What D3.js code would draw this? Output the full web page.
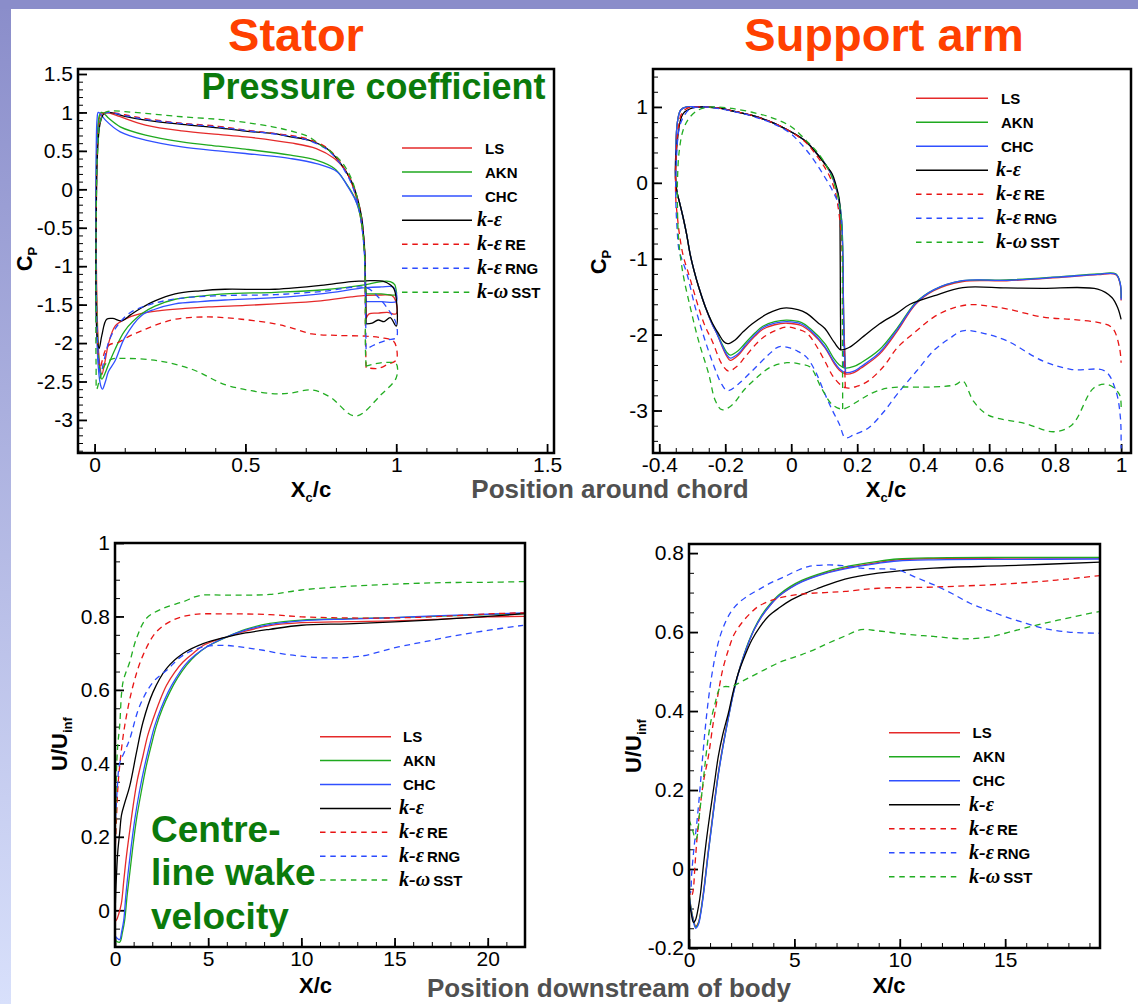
<!DOCTYPE html>
<html><head><meta charset="utf-8">
<script src="https://cdn.jsdelivr.net/npm/d3@7"></script>
<style>body{margin:0;background:#fff}svg{display:block}</style>
</head><body><svg id="chart" width="1138" height="1004"></svg>
<script>
// ---------------- DATA ----------------
const seriesNames = ["LS","AKN","CHC","k-ε","k-εRE","k-εRNG","k-ωSST"];

// Stator, pressure coefficient  [x_c/c, Cp]
const statorLS = [[0.9,-1.68],[0.898,-1.38],[0.897,-1.0],[0.893,-0.7],[0.885,-0.45],[0.873,-0.19],[0.855,0.05],[0.831,0.248],[0.795,0.40],[0.735,0.53],[0.65,0.604],[0.5,0.683],[0.41,0.714],[0.289,0.76],[0.169,0.836],[0.085,0.944],[0.05,0.99],[0.035,1.0],[0.02,0.97],[0.01,0.7],[0.006,0.0],[0.006,-1.0],[0.01,-1.8],[0.016,-2.25],[0.024,-2.41],[0.034,-2.25],[0.046,-2.01],[0.068,-1.78],[0.1,-1.69],[0.15,-1.62],[0.211,-1.58],[0.3,-1.55],[0.377,-1.53],[0.5,-1.51],[0.598,-1.49],[0.75,-1.45],[0.85,-1.40],[0.9,-1.38],[0.95,-1.375],[0.985,-1.38],[0.998,-1.45],[1.0,-1.62],[0.97,-1.6],[0.94,-1.61],[0.91,-1.62],[0.9,-1.68]];
const statorAKN = [[0.9,-1.36],[0.898,-1.24],[0.897,-1.0],[0.893,-0.65],[0.879,-0.317],[0.861,-0.10],[0.831,0.095],[0.795,0.27],[0.735,0.379],[0.65,0.444],[0.5,0.522],[0.41,0.561],[0.289,0.617],[0.169,0.705],[0.085,0.813],[0.048,0.92],[0.03,0.99],[0.022,1.0],[0.015,0.95],[0.008,0.6],[0.005,0.0],[0.005,-1.0],[0.01,-1.9],[0.016,-2.3],[0.024,-2.47],[0.034,-2.4],[0.046,-2.28],[0.068,-2.08],[0.1,-1.84],[0.156,-1.62],[0.2,-1.52],[0.267,-1.43],[0.35,-1.39],[0.432,-1.36],[0.598,-1.34],[0.75,-1.31],[0.9,-1.24],[0.95,-1.2],[0.98,-1.2],[0.995,-1.24],[1.0,-1.32],[1.0,-1.37],[0.95,-1.36],[0.9,-1.36]];
const statorCHC = [[0.9,-1.46],[0.898,-1.28],[0.897,-1.0],[0.893,-0.7],[0.885,-0.36],[0.865,-0.144],[0.84,0.03],[0.805,0.226],[0.735,0.335],[0.65,0.40],[0.5,0.466],[0.41,0.50],[0.289,0.553],[0.169,0.64],[0.085,0.748],[0.036,0.9],[0.02,0.98],[0.012,1.0],[0.008,0.9],[0.005,0.4],[0.004,-0.5],[0.005,-1.5],[0.012,-2.3],[0.02,-2.55],[0.026,-2.6],[0.036,-2.5],[0.046,-2.37],[0.068,-2.23],[0.1,-1.93],[0.156,-1.64],[0.2,-1.56],[0.267,-1.49],[0.35,-1.46],[0.432,-1.44],[0.598,-1.41],[0.75,-1.36],[0.9,-1.28],[0.95,-1.27],[0.99,-1.27],[1.0,-1.35],[1.0,-1.46],[0.95,-1.46],[0.9,-1.46]];
const statorKE = [[0.9,-1.75],[0.898,-1.19],[0.895,-0.8],[0.885,-0.36],[0.873,-0.14],[0.855,0.074],[0.831,0.248],[0.807,0.38],[0.77,0.53],[0.71,0.64],[0.65,0.683],[0.59,0.727],[0.5,0.757],[0.41,0.80],[0.289,0.845],[0.169,0.9],[0.1,0.95],[0.048,1.0],[0.03,0.98],[0.018,0.85],[0.01,0.5],[0.005,-0.5],[0.005,-1.5],[0.009,-1.95],[0.015,-2.07],[0.024,-1.9],[0.04,-1.69],[0.06,-1.68],[0.09,-1.71],[0.12,-1.63],[0.156,-1.54],[0.2,-1.45],[0.267,-1.36],[0.35,-1.32],[0.432,-1.30],[0.598,-1.30],[0.75,-1.25],[0.85,-1.2],[0.9,-1.19],[0.96,-1.2],[0.99,-1.28],[1.0,-1.42],[1.0,-1.78],[0.98,-1.67],[0.96,-1.72],[0.94,-1.7],[0.92,-1.74],[0.9,-1.75]];
const statorRE = [[0.9,-2.32],[0.898,-1.9],[0.897,-1.2],[0.895,-0.8],[0.885,-0.38],[0.873,-0.15],[0.855,0.07],[0.831,0.25],[0.807,0.39],[0.77,0.54],[0.71,0.65],[0.65,0.70],[0.5,0.77],[0.41,0.82],[0.289,0.86],[0.169,0.92],[0.1,0.97],[0.05,1.0],[0.03,0.98],[0.016,0.85],[0.008,0.4],[0.005,-0.8],[0.008,-1.8],[0.013,-2.2],[0.018,-2.32],[0.026,-2.22],[0.035,-2.10],[0.05,-2.02],[0.079,-1.99],[0.12,-1.9],[0.156,-1.84],[0.2,-1.77],[0.267,-1.69],[0.377,-1.66],[0.487,-1.69],[0.598,-1.75],[0.65,-1.80],[0.72,-1.88],[0.8,-1.90],[0.9,-1.91],[0.95,-1.93],[0.99,-1.97],[1.0,-2.05],[1.0,-2.22],[0.97,-2.28],[0.94,-2.33],[0.9,-2.32]];
const statorRNG = [[0.9,-2.08],[0.898,-1.5],[0.896,-1.0],[0.892,-0.7],[0.882,-0.38],[0.87,-0.15],[0.852,0.07],[0.828,0.25],[0.805,0.38],[0.77,0.52],[0.71,0.635],[0.65,0.69],[0.5,0.765],[0.41,0.81],[0.289,0.855],[0.169,0.91],[0.1,0.96],[0.05,1.0],[0.03,0.98],[0.016,0.85],[0.008,0.4],[0.005,-0.8],[0.008,-1.8],[0.014,-2.25],[0.02,-2.4],[0.03,-2.25],[0.05,-1.95],[0.08,-1.75],[0.12,-1.6],[0.2,-1.48],[0.3,-1.41],[0.45,-1.38],[0.6,-1.37],[0.75,-1.33],[0.9,-1.28],[0.94,-1.4],[0.98,-1.6],[1.0,-1.75],[1.0,-1.93],[0.97,-1.96],[0.93,-2.02],[0.9,-2.08]];
const statorSST = [[0.9,-2.3],[0.898,-2.1],[0.897,-1.2],[0.894,-0.8],[0.885,-0.4],[0.87,-0.1],[0.85,0.15],[0.82,0.35],[0.78,0.5],[0.75,0.574],[0.71,0.683],[0.65,0.76],[0.59,0.813],[0.5,0.87],[0.41,0.91],[0.289,0.944],[0.169,0.988],[0.1,1.01],[0.06,1.02],[0.035,1.0],[0.02,0.9],[0.01,0.5],[0.005,-0.5],[0.004,-1.5],[0.005,-2.3],[0.007,-2.6],[0.015,-2.5],[0.035,-2.28],[0.057,-2.21],[0.1,-2.2],[0.211,-2.23],[0.322,-2.34],[0.432,-2.54],[0.52,-2.62],[0.598,-2.66],[0.65,-2.65],[0.72,-2.61],[0.78,-2.7],[0.865,-2.95],[0.95,-2.67],[1.0,-2.45],[1.0,-2.27],[0.97,-2.25],[0.93,-2.27],[0.9,-2.3]];

// Support arm, pressure coefficient  [x_c/c, Cp]
const armLS = [[0.165,-2.52],[0.159,-1.8],[0.157,-1.11],[0.152,-0.5],[0.143,-0.2],[0.135,-0.06],[0.12,0.12],[0.102,0.25],[0.075,0.4],[0.047,0.536],[0.02,0.62],[-0.008,0.69],[-0.06,0.8],[-0.119,0.888],[-0.18,0.95],[-0.229,0.99],[-0.28,1.0],[-0.317,1.0],[-0.335,0.96],[-0.345,0.8],[-0.35,0.4],[-0.35,0.0],[-0.345,-0.15],[-0.339,-0.25],[-0.328,-0.45],[-0.317,-0.68],[-0.306,-0.95],[-0.295,-1.15],[-0.28,-1.38],[-0.26,-1.64],[-0.24,-1.86],[-0.225,-1.99],[-0.21,-2.15],[-0.196,-2.28],[-0.185,-2.34],[-0.16,-2.27],[-0.141,-2.17],[-0.11,-2.02],[-0.086,-1.93],[-0.05,-1.87],[-0.013,-1.85],[0.03,-1.88],[0.06,-1.97],[0.102,-2.17],[0.13,-2.38],[0.146,-2.47],[0.165,-2.52],[0.19,-2.5],[0.212,-2.44],[0.267,-2.26],[0.322,-1.95],[0.377,-1.6],[0.432,-1.42],[0.52,-1.30],[0.653,-1.29],[0.818,-1.245],[0.929,-1.21],[0.984,-1.21],[0.997,-1.33],[1.0,-1.55]];
const armAKN = [[0.163,-2.44],[0.159,-1.8],[0.157,-1.11],[0.153,-0.5],[0.144,-0.2],[0.136,-0.06],[0.121,0.12],[0.103,0.25],[0.075,0.4],[0.047,0.536],[0.02,0.62],[-0.008,0.69],[-0.06,0.8],[-0.119,0.888],[-0.18,0.95],[-0.229,0.99],[-0.28,1.0],[-0.317,1.0],[-0.335,0.96],[-0.345,0.8],[-0.35,0.4],[-0.35,0.0],[-0.345,-0.15],[-0.339,-0.25],[-0.328,-0.45],[-0.317,-0.68],[-0.306,-0.95],[-0.295,-1.15],[-0.28,-1.38],[-0.26,-1.64],[-0.24,-1.85],[-0.225,-1.98],[-0.21,-2.12],[-0.196,-2.23],[-0.185,-2.27],[-0.16,-2.21],[-0.141,-2.12],[-0.11,-1.98],[-0.086,-1.89],[-0.05,-1.83],[-0.013,-1.81],[0.03,-1.84],[0.06,-1.93],[0.102,-2.12],[0.13,-2.32],[0.146,-2.4],[0.163,-2.44],[0.19,-2.42],[0.212,-2.37],[0.267,-2.2],[0.322,-1.91],[0.377,-1.58],[0.432,-1.41],[0.52,-1.29],[0.653,-1.28],[0.818,-1.235],[0.929,-1.20],[0.984,-1.20],[0.997,-1.32],[1.0,-1.52]];
const armCHC = [[0.164,-2.50],[0.159,-1.8],[0.157,-1.11],[0.153,-0.5],[0.144,-0.2],[0.136,-0.06],[0.121,0.12],[0.103,0.25],[0.075,0.4],[0.047,0.536],[0.02,0.62],[-0.008,0.69],[-0.06,0.8],[-0.119,0.888],[-0.18,0.95],[-0.229,0.99],[-0.28,1.0],[-0.317,1.0],[-0.335,0.96],[-0.345,0.8],[-0.35,0.4],[-0.35,0.0],[-0.345,-0.15],[-0.339,-0.25],[-0.328,-0.45],[-0.317,-0.68],[-0.306,-0.95],[-0.295,-1.15],[-0.28,-1.38],[-0.26,-1.64],[-0.24,-1.86],[-0.225,-1.99],[-0.21,-2.14],[-0.196,-2.26],[-0.185,-2.31],[-0.16,-2.25],[-0.141,-2.15],[-0.11,-2.0],[-0.086,-1.91],[-0.05,-1.85],[-0.013,-1.83],[0.03,-1.86],[0.06,-1.95],[0.102,-2.16],[0.13,-2.36],[0.146,-2.45],[0.164,-2.50],[0.19,-2.48],[0.212,-2.42],[0.267,-2.24],[0.322,-1.93],[0.377,-1.59],[0.432,-1.41],[0.52,-1.29],[0.653,-1.285],[0.818,-1.24],[0.929,-1.205],[0.984,-1.205],[0.997,-1.32],[1.0,-1.54]];
const armKE = [[0.15,-2.2],[0.149,-1.5],[0.148,-0.6],[0.146,-0.23],[0.135,-0.02],[0.124,0.12],[0.102,0.25],[0.075,0.4],[0.047,0.536],[0.02,0.62],[-0.008,0.69],[-0.06,0.8],[-0.119,0.888],[-0.18,0.95],[-0.229,0.99],[-0.295,0.99],[-0.328,0.91],[-0.345,0.558],[-0.35,0.0],[-0.345,-0.15],[-0.339,-0.25],[-0.328,-0.45],[-0.317,-0.68],[-0.306,-0.95],[-0.295,-1.15],[-0.28,-1.38],[-0.26,-1.64],[-0.24,-1.84],[-0.22,-1.99],[-0.205,-2.09],[-0.193,-2.12],[-0.17,-2.07],[-0.145,-1.96],[-0.119,-1.86],[-0.07,-1.72],[-0.023,-1.65],[0.02,-1.67],[0.047,-1.72],[0.08,-1.84],[0.102,-1.92],[0.13,-2.1],[0.15,-2.2],[0.175,-2.17],[0.22,-2.02],[0.267,-1.86],[0.32,-1.72],[0.36,-1.6],[0.432,-1.49],[0.52,-1.38],[0.65,-1.385],[0.76,-1.39],[0.929,-1.40],[0.972,-1.51],[0.99,-1.65],[1.0,-1.80]];
const armRE = [[0.164,-2.7],[0.158,-1.8],[0.155,-1.0],[0.15,-0.6],[0.135,-0.15],[0.12,0.05],[0.102,0.2],[0.075,0.37],[0.047,0.52],[-0.008,0.69],[-0.06,0.8],[-0.119,0.888],[-0.18,0.95],[-0.229,0.99],[-0.28,1.0],[-0.31,0.99],[-0.33,0.93],[-0.343,0.7],[-0.35,0.2],[-0.35,-0.2],[-0.345,-0.45],[-0.339,-0.673],[-0.328,-0.95],[-0.311,-1.2],[-0.296,-1.42],[-0.281,-1.64],[-0.262,-1.88],[-0.24,-2.08],[-0.21,-2.39],[-0.19,-2.48],[-0.165,-2.42],[-0.141,-2.30],[-0.11,-2.14],[-0.086,-2.04],[-0.05,-1.95],[-0.013,-1.90],[0.02,-1.93],[0.047,-1.98],[0.075,-2.14],[0.102,-2.35],[0.13,-2.57],[0.164,-2.70],[0.2,-2.68],[0.234,-2.61],[0.28,-2.42],[0.322,-2.17],[0.38,-1.95],[0.432,-1.77],[0.49,-1.65],[0.543,-1.605],[0.6,-1.625],[0.653,-1.66],[0.764,-1.77],[0.85,-1.8],[0.929,-1.84],[0.973,-1.91],[0.995,-2.17],[1.0,-2.37]];
const armRNG = [[0.159,-2.43],[0.157,-1.5],[0.155,-0.8],[0.146,-0.32],[0.125,-0.1],[0.102,0.074],[0.075,0.26],[0.047,0.426],[0.02,0.56],[-0.008,0.67],[-0.06,0.79],[-0.119,0.88],[-0.18,0.945],[-0.229,0.985],[-0.27,1.0],[-0.306,0.976],[-0.325,0.88],[-0.339,0.73],[-0.348,0.3],[-0.35,-0.2],[-0.346,-0.6],[-0.34,-0.89],[-0.328,-1.05],[-0.316,-1.2],[-0.291,-1.64],[-0.261,-2.08],[-0.225,-2.52],[-0.21,-2.66],[-0.193,-2.74],[-0.16,-2.65],[-0.119,-2.48],[-0.07,-2.27],[-0.038,-2.16],[-0.008,-2.17],[0.02,-2.22],[0.047,-2.30],[0.075,-2.5],[0.102,-2.78],[0.125,-3.0],[0.146,-3.18],[0.164,-3.36],[0.19,-3.32],[0.234,-3.23],[0.28,-3.02],[0.322,-2.78],[0.38,-2.48],[0.432,-2.21],[0.48,-2.05],[0.52,-1.95],[0.58,-1.98],[0.653,-2.08],[0.764,-2.35],[0.851,-2.46],[0.951,-2.48],[0.984,-2.74],[0.998,-3.1],[1.0,-3.5]];
const armSST = [[0.156,-2.98],[0.155,-1.8],[0.153,-0.6],[0.145,-0.25],[0.13,0.0],[0.11,0.2],[0.08,0.4],[0.047,0.55],[0.0,0.74],[-0.06,0.86],[-0.119,0.93],[-0.18,0.98],[-0.229,1.0],[-0.26,0.99],[-0.284,0.954],[-0.31,0.85],[-0.328,0.69],[-0.34,0.4],[-0.345,0.0],[-0.345,-0.3],[-0.341,-0.76],[-0.328,-1.2],[-0.306,-1.64],[-0.281,-2.08],[-0.25,-2.52],[-0.23,-2.87],[-0.21,-2.99],[-0.18,-2.93],[-0.141,-2.72],[-0.1,-2.55],[-0.063,-2.43],[-0.013,-2.37],[0.03,-2.39],[0.058,-2.43],[0.091,-2.70],[0.124,-2.92],[0.156,-2.98],[0.212,-2.85],[0.25,-2.76],[0.3,-2.70],[0.432,-2.69],[0.498,-2.66],[0.52,-2.61],[0.553,-2.88],[0.597,-3.06],[0.708,-3.17],[0.796,-3.28],[0.851,-3.19],[0.918,-2.70],[0.962,-2.66],[0.995,-2.79],[1.0,-3.0]];

// Stator centre-line wake velocity  [X/c, U/Uinf]
const wakeStatorLS = [[0,-0.03],[0.075,-0.027],[0.2,-0.01],[0.34,0.018],[0.47,0.08],[0.61,0.146],[0.8,0.22],[0.97,0.283],[1.2,0.355],[1.5,0.42],[1.75,0.475],[2.04,0.52],[2.4,0.57],[2.76,0.612],[3.2,0.648],[3.65,0.676],[4.2,0.7],[4.73,0.721],[5.4,0.735],[5.98,0.744],[7,0.76],[8.31,0.775],[10,0.783],[12.5,0.786],[15,0.788],[17.5,0.793],[20,0.799],[22,0.80]];
const wakeStatorAKN = [[0,-0.082],[0.25,-0.087],[0.4,-0.06],[0.52,-0.027],[0.65,0.04],[0.79,0.10],[0.95,0.17],[1.15,0.247],[1.4,0.32],[1.68,0.393],[1.95,0.45],[2.22,0.502],[2.55,0.55],[2.94,0.594],[3.35,0.632],[3.83,0.667],[4.35,0.695],[4.91,0.717],[5.98,0.744],[7,0.765],[8.31,0.781],[10,0.79],[12.5,0.794],[15,0.797],[17.5,0.801],[20,0.805],[22,0.808]];
const wakeStatorCHC = [[0,-0.07],[0.25,-0.08],[0.35,-0.06],[0.47,-0.027],[0.58,0.04],[0.70,0.10],[0.86,0.17],[1.06,0.247],[1.3,0.32],[1.59,0.393],[1.86,0.45],[2.13,0.502],[2.47,0.55],[2.85,0.594],[3.27,0.632],[3.74,0.667],[4.3,0.695],[4.91,0.717],[5.98,0.744],[7,0.763],[8.31,0.778],[10,0.788],[12.5,0.793],[15,0.797],[17.5,0.802],[20,0.806],[22,0.81]];
const wakeStatorKE = [[0,-0.02],[0.04,0.05],[0.075,0.091],[0.15,0.16],[0.25,0.21],[0.35,0.26],[0.52,0.292],[0.79,0.338],[1.15,0.429],[1.5,0.512],[2.04,0.594],[2.76,0.658],[3.65,0.699],[4.73,0.726],[5.98,0.744],[7,0.755],[8.31,0.765],[10,0.776],[12.5,0.78],[15,0.785],[17.5,0.792],[20,0.80],[22,0.808]];
const wakeStatorRE = [[0,0.15],[0.08,0.25],[0.15,0.33],[0.25,0.393],[0.52,0.502],[0.97,0.612],[1.5,0.694],[2.22,0.758],[3.11,0.79],[4.19,0.805],[5.98,0.807],[8.31,0.805],[10,0.799],[12.5,0.796],[15,0.796],[17.5,0.8],[20,0.807],[22,0.81]];
const wakeStatorRNG = [[0,0.22],[0.04,0.256],[0.12,0.33],[0.25,0.40],[0.5,0.43],[0.79,0.466],[1.33,0.557],[2.04,0.621],[2.76,0.653],[3.65,0.694],[4.73,0.717],[5.98,0.721],[7,0.715],[7.95,0.708],[9,0.698],[10,0.692],[11.4,0.687],[13.2,0.692],[15.2,0.717],[16.5,0.73],[18.2,0.747],[20,0.762],[21.9,0.776]];
const wakeStatorSST = [[0,0.15],[0.05,0.28],[0.075,0.375],[0.15,0.45],[0.25,0.502],[0.43,0.621],[0.79,0.676],[1.15,0.74],[1.69,0.795],[2.58,0.822],[3.65,0.84],[4.55,0.857],[5.98,0.858],[8.31,0.86],[10,0.872],[12.5,0.882],[15,0.888],[17.5,0.892],[20,0.893],[22,0.895]];

// Support arm centre-line wake velocity  [X/c, U/Uinf]
const wakeArmLS = [[0,-0.06],[0.1,-0.1],[0.21,-0.128],[0.32,-0.145],[0.45,-0.135],[0.55,-0.11],[0.66,-0.07],[0.76,-0.027],[0.9,0.04],[1.08,0.116],[1.23,0.18],[1.39,0.243],[1.6,0.31],[1.87,0.386],[2.1,0.445],[2.34,0.496],[2.6,0.54],[2.82,0.572],[3.1,0.607],[3.45,0.64],[3.85,0.668],[4.24,0.69],[4.8,0.712],[5.35,0.728],[6.45,0.749],[7.4,0.762],[8.97,0.776],[9.88,0.783],[11.6,0.786],[15,0.787],[19.5,0.787]];
const wakeArmAKN = [[0,-0.06],[0.1,-0.1],[0.21,-0.13],[0.32,-0.147],[0.45,-0.137],[0.55,-0.112],[0.66,-0.072],[0.76,-0.03],[0.9,0.035],[1.08,0.112],[1.23,0.176],[1.39,0.24],[1.6,0.307],[1.87,0.384],[2.1,0.444],[2.34,0.496],[2.6,0.541],[2.82,0.574],[3.1,0.609],[3.45,0.643],[3.85,0.671],[4.24,0.693],[4.8,0.715],[5.35,0.731],[6.45,0.752],[7.4,0.765],[8.97,0.779],[9.88,0.785],[11.6,0.788],[15,0.789],[19.5,0.789]];
const wakeArmCHC = [[0,-0.065],[0.1,-0.105],[0.21,-0.133],[0.32,-0.15],[0.45,-0.14],[0.55,-0.115],[0.66,-0.075],[0.76,-0.032],[0.9,0.033],[1.08,0.11],[1.23,0.175],[1.39,0.238],[1.6,0.306],[1.87,0.383],[2.1,0.443],[2.34,0.495],[2.6,0.54],[2.82,0.572],[3.1,0.607],[3.45,0.64],[3.85,0.668],[4.24,0.69],[4.8,0.711],[5.35,0.727],[6.45,0.748],[7.4,0.76],[8.97,0.774],[9.88,0.78],[11.6,0.783],[15,0.784],[19.5,0.785]];
const wakeArmKE = [[0,-0.075],[0.1,-0.11],[0.21,-0.135],[0.3,-0.13],[0.45,-0.095],[0.55,-0.06],[0.68,0.007],[0.83,0.075],[1.0,0.142],[1.2,0.215],[1.39,0.285],[1.6,0.34],[1.87,0.395],[2.1,0.45],[2.34,0.496],[2.65,0.54],[2.98,0.58],[3.35,0.612],[3.77,0.64],[4.3,0.662],[4.87,0.682],[5.5,0.698],[6.14,0.711],[7.4,0.734],[8.97,0.749],[11.6,0.762],[15.1,0.768],[19.5,0.777]];
const wakeArmRE = [[0,-0.05],[0.1,-0.07],[0.18,-0.06],[0.29,0.015],[0.4,0.09],[0.53,0.158],[0.7,0.225],[0.92,0.285],[1.15,0.37],[1.39,0.446],[1.6,0.505],[1.87,0.555],[2.15,0.595],[2.5,0.623],[2.9,0.647],[3.29,0.665],[3.9,0.68],[4.56,0.69],[5.5,0.697],[6.45,0.70],[7.4,0.703],[8.97,0.711],[11.6,0.714],[15.1,0.722],[17.5,0.732],[19.5,0.743]];
const wakeArmRNG = [[0,-0.05],[0.07,-0.06],[0.13,-0.01],[0.25,0.06],[0.37,0.116],[0.5,0.19],[0.61,0.26],[0.76,0.35],[0.92,0.429],[1.08,0.49],[1.24,0.538],[1.45,0.585],[1.71,0.623],[2.0,0.652],[2.34,0.673],[2.8,0.692],[3.29,0.707],[3.9,0.725],[4.56,0.741],[5.1,0.755],[5.66,0.766],[6.61,0.77],[7.3,0.768],[8.16,0.762],[9.0,0.76],[9.88,0.758],[10.7,0.74],[11.6,0.72],[12.5,0.697],[13.33,0.673],[14.2,0.655],[15.06,0.638],[16.0,0.622],[16.78,0.61],[18,0.6],[19.45,0.597]];
const wakeArmSST = [[0,0.125],[0.1,0.11],[0.21,0.091],[0.3,0.075],[0.37,0.08],[0.5,0.14],[0.61,0.192],[0.75,0.26],[0.92,0.336],[1.08,0.385],[1.24,0.42],[1.36,0.445],[1.47,0.458],[1.7,0.462],[2.03,0.462],[2.5,0.475],[2.98,0.488],[3.6,0.505],[4.24,0.522],[4.8,0.533],[5.35,0.543],[6.0,0.557],[6.61,0.572],[7.4,0.59],[8.16,0.606],[8.97,0.603],[9.88,0.597],[10.8,0.592],[11.6,0.589],[12.98,0.583],[14.19,0.587],[15.0,0.597],[15.91,0.61],[17.5,0.63],[19.45,0.652]];

// Tick labels
const statorYTicks = [-3,-2.5,-2,-1.5,-1,-0.5,0,0.5,1,1.5];
const statorXTicks = [0,0.5,1,1.5];
const armYTicks = [-3,-2,-1,0,1];
const armXTicks = [-0.4,-0.2,0,0.2,0.4,0.6,0.8,1];
const wakeStatorYTicks = [0,0.2,0.4,0.6,0.8,1];
const wakeStatorXTicks = [0,5,10,15,20];
const wakeArmYTicks = [-0.2,0,0.2,0.4,0.6,0.8];
const wakeArmXTicks = [0,5,10,15];

// ---------------- STYLE ----------------
const seriesStyle = [
  {color:'#e52a2a', dash:null},
  {color:'#1fa91f', dash:null},
  {color:'#3050ff', dash:null},
  {color:'#000000', dash:null},
  {color:'#e81414', dash:'6,4.5'},
  {color:'#2b4bff', dash:'6,4.5'},
  {color:'#22ad22', dash:'6,4.5'}
];
const SANS = "'Liberation Sans', Arial, Helvetica, sans-serif";
const SERIF = "'Liberation Serif', 'Times New Roman', serif";
const TICKFONT = 21;
const mk = (a,b,s)=>d3.range(Math.round(a/s), Math.round(b/s)+1).map(i=>+(i*s).toFixed(4));

const panels = [
  {id:'p1', left:78, right:554, top:69, bottom:453, xDomain:[-0.055,1.523], yDomain:[-3.43,1.565],
   xTicks:statorXTicks, yTicks:statorYTicks, xMinor:mk(0,1.5,0.1), yMinor:mk(-3.4,1.5,0.1),
   series:[statorLS,statorAKN,statorCHC,statorKE,statorRE,statorRNG,statorSST],
   legend:{x1:402, x2:472, y0:148, dy:24.05, tx:485, kx:477}},
  {id:'p2', left:653, right:1131, top:69, bottom:453, xDomain:[-0.419,1.03], yDomain:[-3.56,1.5],
   xTicks:armXTicks, yTicks:armYTicks, xMinor:mk(-0.4,1.0,0.05), yMinor:mk(-3.4,1.4,0.2),
   series:[armLS,armAKN,armCHC,armKE,armRE,armRNG,armSST],
   legend:{x1:916, x2:988, y0:98.3, dy:24, tx:1001, kx:996}},
  {id:'p3', left:115, right:525, top:543, bottom:947, xDomain:[0,22], yDomain:[-0.1,1.0],
   xTicks:wakeStatorXTicks, yTicks:wakeStatorYTicks, xMinor:mk(0,22,1), yMinor:mk(-0.1,1.0,0.05),
   series:[wakeStatorLS,wakeStatorAKN,wakeStatorCHC,wakeStatorKE,wakeStatorRE,wakeStatorRNG,wakeStatorSST],
   legend:{x1:320, x2:391, y0:736.7, dy:23.9, tx:403, kx:399}},
  {id:'p4', left:689, right:1100, top:544, bottom:948, xDomain:[0,19.5], yDomain:[-0.2,0.823],
   xTicks:wakeArmXTicks, yTicks:wakeArmYTicks, xMinor:mk(0,19,1), yMinor:mk(-0.2,0.8,0.05),
   series:[wakeArmLS,wakeArmAKN,wakeArmCHC,wakeArmKE,wakeArmRE,wakeArmRNG,wakeArmSST],
   legend:{x1:889, x2:960, y0:732.7, dy:24, tx:972.5, kx:969}}
];

// ---------------- DRAW ----------------
const svg = d3.select('#chart');
const defs = svg.append('defs');
const grad = defs.append('linearGradient').attr('id','sideGrad').attr('x1',0).attr('y1',0).attr('x2',0).attr('y2',1);
grad.append('stop').attr('offset','0%').attr('stop-color','#8a8dca');
grad.append('stop').attr('offset','100%').attr('stop-color','#d8e0fb');
svg.append('rect').attr('width',1138).attr('height',1004).attr('fill','#ffffff');
svg.append('rect').attr('x',0).attr('y',0).attr('width',11).attr('height',1004).attr('fill','url(#sideGrad)');
svg.append('rect').attr('x',0).attr('y',0).attr('width',1138).attr('height',9).attr('fill','#8a8dca');

function styleAxis(sel, fs){
  sel.select('.domain').remove();
  sel.attr('font-family', SANS).attr('font-size', fs);
  sel.selectAll('text').attr('fill','#000');
  sel.selectAll('line').attr('stroke','#000');
}

panels.forEach(p=>{
  const g = svg.append('g').attr('class','panel');
  const x = d3.scaleLinear().domain(p.xDomain).range([p.left,p.right]);
  const y = d3.scaleLinear().domain(p.yDomain).range([p.bottom,p.top]);
  const clipId = 'clip-'+p.id;
  defs.append('clipPath').attr('id',clipId).append('rect')
    .attr('x',p.left).attr('y',p.top).attr('width',p.right-p.left).attr('height',p.bottom-p.top);

  // minor ticks (inside)
  g.append('g').attr('transform',`translate(${p.left},0)`)
    .call(d3.axisLeft(y).tickValues(p.yMinor.filter(v=>v>=p.yDomain[0]&&v<=p.yDomain[1])).tickSizeInner(-5).tickSizeOuter(0).tickFormat(''))
    .call(s=>{styleAxis(s,10); s.selectAll('line').attr('stroke-width',1);});
  g.append('g').attr('transform',`translate(0,${p.bottom})`)
    .call(d3.axisBottom(x).tickValues(p.xMinor.filter(v=>v>=p.xDomain[0]&&v<=p.xDomain[1])).tickSizeInner(-5).tickSizeOuter(0).tickFormat(''))
    .call(s=>{styleAxis(s,10); s.selectAll('line').attr('stroke-width',1);});
  // major ticks
  g.append('g').attr('transform',`translate(${p.left},0)`)
    .call(d3.axisLeft(y).tickValues(p.yTicks).tickSizeInner(-9).tickSizeOuter(0).tickPadding(5).tickFormat(d=>String(d)))
    .call(s=>{styleAxis(s,TICKFONT); s.selectAll('line').attr('stroke-width',1.8);});
  g.append('g').attr('transform',`translate(0,${p.bottom})`)
    .call(d3.axisBottom(x).tickValues(p.xTicks).tickSizeInner(-9).tickSizeOuter(0).tickPadding(4).tickFormat(d=>String(d)))
    .call(s=>{styleAxis(s,TICKFONT); s.selectAll('line').attr('stroke-width',1.8);});

  // curves
  const line = d3.line().x(d=>x(d[0])).y(d=>y(d[1])).curve(d3.curveCatmullRom.alpha(0.5));
  const lg = g.append('g').attr('clip-path',`url(#${clipId})`);
  p.series.forEach((s,i)=>{
    lg.append('path').attr('d',line(s)).attr('fill','none')
      .attr('stroke',seriesStyle[i].color).attr('stroke-width',1.3)
      .attr('stroke-dasharray',seriesStyle[i].dash).attr('stroke-linejoin','round');
  });

  // frame
  g.append('rect').attr('x',p.left).attr('y',p.top).attr('width',p.right-p.left).attr('height',p.bottom-p.top)
    .attr('fill','none').attr('stroke','#000').attr('stroke-width',2.5);

  // legend
  const L = p.legend;
  seriesNames.forEach((name,i)=>{
    const yy = L.y0 + i*L.dy;
    g.append('line').attr('x1',L.x1).attr('x2',L.x2).attr('y1',yy).attr('y2',yy)
      .attr('stroke',seriesStyle[i].color).attr('stroke-width',1.5)
      .attr('stroke-dasharray',seriesStyle[i].dash ? '5.5,4.8' : null);
    if (name.startsWith('k-')) {
      const t = g.append('text').attr('x',L.kx).attr('y',yy+6).attr('fill','#000');
      t.append('tspan').text(name.slice(0,3)).attr('font-family',SERIF).attr('font-style','italic')
        .attr('font-weight','bold').attr('font-size',20);
      if (name.length>3) t.append('tspan').text(name.slice(3)).attr('dx',3).attr('font-family',SANS)
        .attr('font-weight','bold').attr('font-size',15);
    } else {
      g.append('text').attr('x',L.tx).attr('y',yy+5.5).text(name).attr('font-family',SANS)
        .attr('font-weight','bold').attr('font-size',15).attr('fill','#000');
    }
  });
});

// ---------------- TEXTS ----------------
function txt(x,y,s,size,color,anchor){
  return svg.append('text').attr('x',x).attr('y',y).text(s).attr('font-family',SANS)
    .attr('font-weight','bold').attr('font-size',size).attr('fill',color).attr('text-anchor',anchor||'middle');
}
txt(296,51,'Stator',47,'#ff4000');
txt(884,51,'Support arm',47,'#ff4000');
txt(373.5,99,'Pressure coefficient',36,'#0b7a0b');
txt(151,842,'Centre-',37,'#0b7a0b','start');
txt(151,885,'line wake',37,'#0b7a0b','start');
txt(151,929,'velocity',37,'#0b7a0b','start');
txt(610,498,'Position around chord',26,'#505050');
txt(609,997,'Position downstream of body',26,'#505050');

function subLabel(x,y,main,sub,tail,rot){
  const t = svg.append('text').attr('font-family',SANS).attr('font-weight','bold').attr('font-size',22)
    .attr('fill','#000').attr('text-anchor','middle')
    .attr('transform',`translate(${x},${y})${rot?' rotate(-90)':''}`);
  t.append('tspan').text(main);
  t.append('tspan').text(sub).attr('font-size',13).attr('dy',5);
  if (tail) t.append('tspan').text(tail).attr('dy',-5);
  return t;
}
subLabel(32,259,'C','P','',true);
subLabel(606,262,'C','P','',true);
subLabel(67,744,'U/U','inf','',true);
subLabel(641,746,'U/U','inf','',true);
subLabel(311,497,'X','c','/c',false);
subLabel(886,497,'X','c','/c',false);
svg.append('text').attr('x',315.5).attr('y',993).text('X/c').attr('font-family',SANS).attr('font-weight','bold')
  .attr('font-size',22).attr('text-anchor','middle');
svg.append('text').attr('x',889).attr('y',993).text('X/c').attr('font-family',SANS).attr('font-weight','bold')
  .attr('font-size',22).attr('text-anchor','middle');
</script>
</body></html>
